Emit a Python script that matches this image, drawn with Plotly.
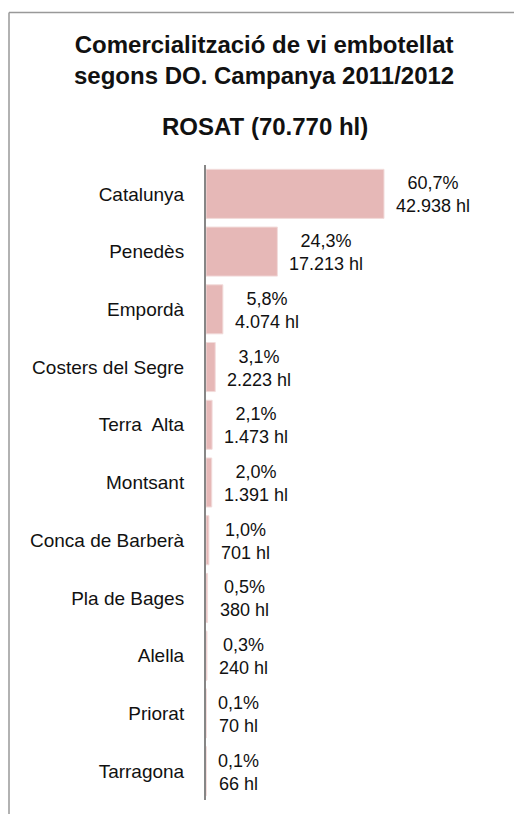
import plotly.graph_objects as go

categories = ["Catalunya", "Penedès", "Empordà", "Costers del Segre", "Terra\u00a0 Alta",
              "Montsant", "Conca de Barberà", "Pla de Bages", "Alella", "Priorat", "Tarragona"]
volumes_hl = [42938, 17213, 4074, 2223, 1473, 1391, 701, 380, 240, 70, 66]
percent_labels = ["60,7%", "24,3%", "5,8%", "3,1%", "2,1%", "2,0%", "1,0%", "0,5%", "0,3%", "0,1%", "0,1%"]
volume_labels = ["42.938 hl", "17.213 hl", "4.074 hl", "2.223 hl", "1.473 hl", "1.391 hl",
                 "701 hl", "380 hl", "240 hl", "70 hl", "66 hl"]

title_lines = ["Comercialització de vi embotellat", "segons DO. Campanya 2011/2012"]
subtitle = "ROSAT (70.770 hl)"

W, H = 514, 814
# plot area in screen pixels: x 206..500, y 165..800
L, T = 206, 165
R, B = W - 500, H - 800
pw, ph = W - L - R, H - T - B

def sx(px):
    return (px - L) / pw

def sy(py):
    return (H - B - py) / ph

FONT = "Liberation Sans, Arial, sans-serif"

fig = go.Figure(go.Bar(
    x=volumes_hl, y=categories, orientation="h",
    marker=dict(color="#E6B8B7", line=dict(color="#F2DCDB", width=1)),
    hoverinfo="skip",
))

bar_annotations = [
    dict(x=v, y=c, xref="x", yref="y", text=f"{p}<br>{vl}", showarrow=False,
         xanchor="left", yanchor="middle", xshift=10, yshift=-1, align="center",
         font=dict(family=FONT, size=18, color="#111111"))
    for c, v, p, vl in zip(categories, volumes_hl, percent_labels, volume_labels)
]

line_style = dict(color="#999999", width=1.5)

fig.update_layout(
    width=W, height=H,
    margin=dict(l=L, r=R, t=T, b=B),
    paper_bgcolor="white", plot_bgcolor="white",
    showlegend=False, bargap=0.15,
    font=dict(family=FONT, color="#111111"),
    xaxis=dict(range=[0, 70920], visible=False, fixedrange=True),
    yaxis=dict(autorange="reversed", showline=True, linecolor="#868686", linewidth=2,
               ticks="", showgrid=False, zeroline=False, ticklabelstandoff=16,
               tickfont=dict(size=19, color="#111111"), fixedrange=True),
    shapes=[
        dict(type="line", xref="paper", yref="paper",
             x0=sx(9), x1=sx(514), y0=sy(12.5), y1=sy(12.5), line=line_style, layer="below"),
        dict(type="line", xref="paper", yref="paper",
             x0=sx(9), x1=sx(9), y0=sy(12.5), y1=sy(814), line=line_style, layer="below"),
    ],
    annotations=[
        dict(text="<b>" + "<br>".join(title_lines) + "</b>", xref="paper", yref="paper",
             x=sx(264), y=sy(60), xanchor="center", yanchor="middle",
             showarrow=False, font=dict(size=24, color="#111111"), align="center"),
        dict(text="<b>" + subtitle + "</b>", xref="paper", yref="paper",
             x=sx(265), y=sy(127), xanchor="center", yanchor="middle",
             showarrow=False, font=dict(size=24, color="#111111")),
    ] + bar_annotations,
)

fig.write_html(
    "out.html",
    config={"displayModeBar": False},
    post_script="document.body.style.margin='0';document.body.style.overflow='hidden';",
)
